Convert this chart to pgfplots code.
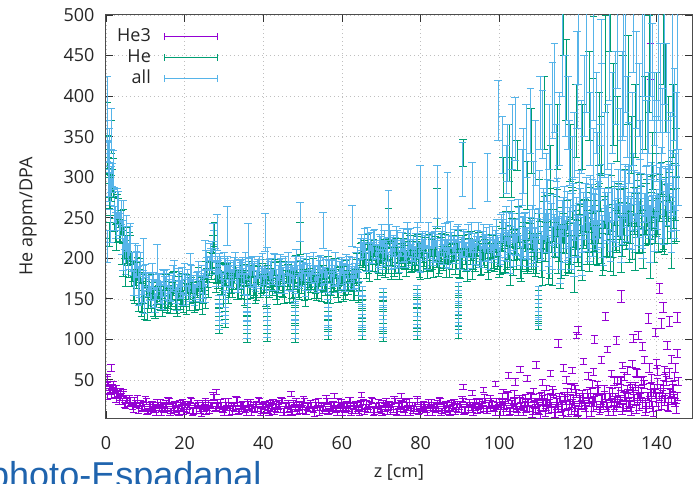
\documentclass[border=0pt]{standalone}
\usepackage{fontspec}
\setmainfont{Open Sans}
\newfontfamily\arialfont{Liberation Sans}
\usepackage{pgfplots}
\usepackage{pgfplotstable}
\pgfplotsset{compat=1.18}
\definecolor{cHeT}{HTML}{9400D3}
\definecolor{cHe}{HTML}{009E73}
\definecolor{cAll}{HTML}{56B4E9}
\definecolor{cTxt}{HTML}{1F64AE}

\pgfplotstableread{
x a h p ea ep
0.5 328 320 46 15 3
1 286 273 36 20 4
1.5 303 296 42 14 3
2 266 255 33 22 5
2.5 241 226 26 16 3
3 265 256 33 18 4
3.5 247 233 28 12 3
4 226 214 24 21 4
4.5 255 245 33 16 3
5 204 190 20 24 5
5.5 214 207 25 15 3
6 222 214 27 18 4
6.5 193 180 20 14 3
7 170 163 14 15 4
7.5 198 187 22 20 3
8 202 187 26 14 5
8.5 174 165 18 22 3
9 159 145 15 16 4
9.5 174 162 21 18 3
10 185 175 26 8 4
10.5 152 138 11 14 3
11 170 163 18 11 5
11.5 158 150 14 16 3
12 173 160 19 10 4
12.5 145 138 13 12 3
13 163 152 22 9 4
13.5 172 157 16 10 3
14 158 149 11 13 5
14.5 177 163 20 9 3
15 163 151 17 15 4
15.5 154 144 14 11 3
16 169 155 24 12 4
16.5 156 149 12 8 3
17 177 169 18 14 5
17.5 161 148 21 11 3
18 152 145 15 16 4
18.5 174 163 10 10 3
19 168 153 19 12 4
19.5 161 152 23 9 3
20 184 170 16 10 5
20.5 156 144 13 13 3
21 168 158 20 9 4
21.5 178 164 26 15 3
22 163 156 11 11 4
22.5 154 146 18 12 3
23 175 162 14 8 5
23.5 182 175 19 14 3
24 168 157 13 11 4
24.5 162 147 22 16 3
25 175 166 16 10 4
25.5 198 184 11 12 3
26 173 161 20 9 5
26.5 208 198 19 10 3
27 208 194 19 13 4
27.5 226 219 29 9 3
28 181 173 17 15 4
28.5 187 174 20 11 3
29 190 183 21 12 5
29.5 174 163 15 8 3
30 194 179 10 14 4
30.5 181 172 19 11 3
31 174 160 23 16 4
31.5 187 175 16 10 3
32 174 164 13 12 5
32.5 192 178 20 9 3
33 179 172 26 10 4
33.5 171 163 11 13 3
34 189 176 18 9 4
34.5 184 177 14 15 3
35 177 166 19 11 5
35.5 196 181 13 12 3
36 173 164 22 8 4
36.5 182 168 16 14 3
37 190 178 11 11 4
37.5 178 168 20 16 3
38 169 155 17 10 5
38.5 187 180 14 12 3
39 193 185 24 9 4
39.5 180 167 12 10 3
40 175 168 18 13 4
40.5 185 174 21 9 3
41 199 184 15 15 5
41.5 172 163 10 11 3
42 188 174 19 12 4
42.5 179 167 23 8 3
43 191 181 16 14 4
43.5 168 154 13 11 3
44 183 176 20 16 5
44.5 190 182 26 10 3
45 177 164 11 12 4
45.5 194 187 18 9 3
46 181 170 14 10 4
46.5 174 159 19 13 3
47 187 178 13 9 5
47.5 174 160 22 15 3
48 192 180 16 11 4
48.5 179 169 11 12 3
49 171 157 20 8 4
49.5 189 182 17 14 3
50 184 176 14 11 5
50.5 177 164 24 16 3
51 196 189 12 10 4
51.5 173 162 18 12 3
52 182 167 21 9 4
52.5 190 181 15 10 3
53 178 164 10 13 5
53.5 169 157 19 9 3
54 187 177 23 15 4
54.5 193 179 16 11 3
55 180 173 13 12 4
55.5 175 167 20 8 3
56 185 172 26 14 5
56.5 199 192 11 11 3
57 172 161 18 16 4
57.5 188 173 14 10 3
58 179 170 19 12 4
58.5 191 177 13 9 3
59 168 156 22 10 5
59.5 183 173 16 13 3
60 190 176 11 9 4
60.5 177 170 20 15 3
61 194 186 17 11 4
61.5 181 168 14 12 3
62 174 167 24 8 5
62.5 187 176 12 14 3
63 174 159 18 11 4
63.5 192 183 21 16 3
64 179 165 15 10 4
64.5 185 173 10 13 3
65 220 210 19 10 5
65.5 214 200 23 11 3
66 206 199 16 14 4
66.5 228 220 13 10 3
67 202 189 20 17 4
67.5 212 205 26 12 3
68 221 210 11 13 5
68.5 208 193 18 9 3
69 198 189 14 15 4
69.5 218 204 19 12 3
70 224 212 13 18 4
70.5 210 200 22 11 3
71 204 190 16 13 5
71.5 215 208 11 10 3
72 231 223 20 11 4
72.5 201 188 17 14 3
73 219 212 14 10 4
73.5 209 198 24 17 3
74 222 207 12 12 5
74.5 196 187 18 13 3
75 213 199 21 9 4
75.5 222 210 15 15 3
76 208 198 10 12 4
76.5 227 213 19 18 3
77 212 205 23 11 5
77.5 204 196 16 13 3
78 218 205 13 10 4
78.5 204 197 20 11 3
79 224 213 26 14 4
79.5 210 195 11 10 3
80 200 191 18 17 5
80.5 221 207 14 12 3
81 215 203 19 13 4
81.5 207 197 13 9 3
82 229 215 22 15 4
82.5 203 196 16 12 3
83 213 205 11 18 5
83.5 222 209 20 11 3
84 209 202 17 13 4
84.5 199 188 14 10 3
85 219 204 24 11 4
85.5 226 217 12 14 3
86 212 198 18 10 5
86.5 206 194 21 17 3
87 217 207 15 12 4
87.5 233 219 10 13 3
88 203 196 19 9 4
88.5 221 213 23 15 3
89 211 198 16 12 5
89.5 224 217 13 18 3
90 198 187 20 11 4
90.5 215 200 27 13 3
91 223 214 12 10 4
91.5 209 195 19 11 3
92 228 216 15 14 5
92.5 213 203 20 10 3
93 205 191 14 17 4
93.5 219 212 23 12 3
94 205 197 17 13 4
94.5 225 212 12 9 3
95 211 204 21 15 5
95.5 203 192 18 12 3
96 224 209 15 18 4
96.5 218 209 25 11 3
97 210 196 13 13 4
97.5 232 220 19 10 3
98 206 196 22 11 5
98.5 216 202 16 14 3
99 225 218 11 10 4
99.5 212 204 20 17 3
100 202 189 24 12 4
100.5 235 229 18 19 4
101 244 232 14 13 7
101.5 223 205 23 22 4
102 214 205 31 18 5
102.5 231 215 11 26 4
103 255 242 20 16 5
103.5 209 198 15 19 4
104 236 220 22 14 7
104.5 221 215 14 16 4
105 242 234 26 21 5
105.5 201 186 18 14 4
106 227 221 11 24 5
106.5 239 227 23 18 4
107 218 200 19 19 7
107.5 247 238 15 13 4
108 225 209 28 22 5
108.5 212 199 12 18 4
109 234 223 20 26 5
109.5 213 197 24 16 4
110 243 237 16 19 7
110.5 228 220 8 20 5
111 207 189 25 22 6
111.5 253 247 32 29 5
112 240 226 19 20 6
112.5 223 201 14 33 5
113 272 262 26 24 8
113.5 213 193 37 26 5
114 236 220 10 18 6
114.5 257 245 23 31 5
115 226 206 16 24 6
115.5 204 198 25 35 5
116 249 241 14 22 8
116.5 263 245 30 26 5
117 232 226 19 20 6
117.5 219 205 10 22 5
118 244 222 26 29 6
118.5 278 268 21 20 5
119 211 191 16 33 8
119.5 251 235 34 24 5
120 228 216 12 26 6
120.5 269 249 26 18 5
121 210 204 31 31 6
121.5 248 240 20 24 5
122 265 247 11 35 8
122.5 235 229 28 22 5
123 276 262 35 26 6
123.5 244 222 22 20 5
124 225 215 17 22 6
124.5 257 237 29 29 5
125 227 211 40 20 8
125.5 271 259 13 33 5
126 238 218 26 24 6
126.5 217 211 19 26 5
127 263 255 28 18 6
127.5 250 232 17 31 5
128 233 227 33 24 8
128.5 282 268 22 35 5
129 223 201 13 22 6
129.5 246 236 29 26 5
130 267 247 24 20 6
130.5 246 230 21 22 5
131 224 212 45 29 8
131.5 269 249 16 20 5
132 283 277 30 33 6
132.5 252 244 38 24 5
133 239 221 23 26 6
133.5 264 258 11 18 5
134 298 284 33 31 8
134.5 231 209 42 24 5
135 271 261 26 35 6
135.5 248 228 18 22 5
136 279 263 35 26 6
136.5 220 208 50 20 5
137 258 238 14 22 8
137.5 275 269 30 29 5
138 245 237 21 20 6
138.5 286 268 33 33 5
139 254 248 18 24 6
139.5 235 221 40 26 5
140 267 245 26 18 8
140.5 249 239 18 31 5
141 293 273 39 24 6
141.5 260 244 32 35 5
142 239 227 25 22 6
142.5 285 265 49 26 5
143 272 266 20 20 8
143.5 255 247 34 22 5
144 304 286 42 29 6
144.5 245 239 27 20 5
145 268 254 15 33 6
}\main

\pgfplotstableread{
x a h p ea ep
0.25 332 323 50 12 5
0.75 297 283 40 21 3
1.25 298 286 31 16 4
1.75 309 299 37 24 3
2.25 249 235 39 15 4
2.75 268 261 30 18 3
3.25 242 234 25 14 5
3.75 257 244 30 15 3
4.25 205 198 35 20 4
4.75 225 214 19 14 3
5.25 231 216 25 22 4
5.75 202 193 20 16 3
6.25 225 211 24 18 5
6.75 196 184 17 12 3
7.25 176 166 25 21 4
7.75 193 179 19 16 3
8.25 166 159 13 24 4
8.75 193 185 22 15 3
9.25 164 151 18 18 5
9.75 146 139 15 14 3
10.25 173 162 24 10 4
10.75 166 151 12 13 3
11.25 157 148 18 9 4
11.75 179 165 21 15 3
12.25 151 139 15 11 5
12.75 162 152 10 12 3
13.25 172 158 19 8 4
13.75 158 151 23 14 3
14.25 148 140 16 11 4
14.75 169 156 13 16 3
15.25 177 170 20 10 5
15.75 162 151 26 12 3
16.25 156 141 11 9 4
16.75 169 160 18 10 3
17.25 185 171 14 13 4
17.75 153 141 19 9 3
18.25 173 163 13 15 5
18.75 162 148 22 11 3
19.25 177 170 16 12 4
19.75 150 142 11 8 3
20.25 168 155 20 14 4
20.75 176 169 17 11 3
21.25 163 152 14 16 5
21.75 182 167 24 10 3
22.25 167 158 12 12 4
22.75 159 145 18 9 3
23.25 174 162 21 10 4
23.75 160 150 15 13 3
24.25 182 168 10 9 5
24.75 166 159 19 15 3
25.25 157 149 23 11 4
25.75 189 176 16 12 3
26.25 194 187 13 8 4
26.75 199 188 20 14 3
27.25 232 217 30 11 5
27.75 196 187 15 16 3
28.25 193 179 22 10 4
28.75 194 182 14 12 3
29.25 175 165 19 9 4
29.75 164 150 13 10 3
30.25 187 180 22 13 5
30.75 193 185 16 9 3
31.25 180 167 11 15 4
31.75 175 168 20 11 3
32.25 185 174 17 12 4
32.75 199 184 14 8 3
33.25 172 163 24 14 5
33.75 188 174 12 11 3
34.25 179 167 18 16 4
34.75 191 181 21 10 3
35.25 168 154 15 12 4
35.75 183 176 10 9 3
36.25 190 182 19 10 5
36.75 177 164 23 13 3
37.25 194 187 16 9 4
37.75 181 170 13 15 3
38.25 174 159 20 11 4
38.75 187 178 26 12 3
39.25 174 160 11 8 5
39.75 192 180 18 14 3
40.25 179 169 14 11 4
40.75 171 157 19 16 3
41.25 189 182 13 10 4
41.75 184 176 22 12 3
42.25 177 164 16 9 5
42.75 196 189 11 10 3
43.25 173 162 20 13 4
43.75 182 167 17 9 3
44.25 190 181 14 15 4
44.75 178 164 24 11 3
45.25 169 157 12 12 5
45.75 187 177 18 8 3
46.25 193 179 21 14 4
46.75 180 173 15 11 3
47.25 175 167 10 16 4
47.75 185 172 19 10 3
48.25 199 192 23 12 5
48.75 172 161 16 9 3
49.25 188 173 13 10 4
49.75 179 170 20 13 3
50.25 191 177 26 9 4
50.75 168 156 11 15 3
51.25 183 173 18 11 5
51.75 190 176 14 12 3
52.25 177 170 19 8 4
52.75 194 186 13 14 3
53.25 181 168 22 11 4
53.75 174 167 16 16 3
54.25 187 176 11 10 5
54.75 174 159 20 12 3
55.25 192 183 17 9 4
55.75 179 165 14 10 3
56.25 171 159 24 13 4
56.75 189 179 12 9 3
57.25 184 170 18 15 5
57.75 177 170 21 11 3
58.25 196 188 15 12 4
58.75 173 160 10 8 3
59.25 182 175 19 14 4
59.75 190 179 23 11 3
60.25 178 163 16 16 5
60.75 169 160 13 10 3
61.25 187 173 20 12 4
61.75 193 181 26 9 3
62.25 180 170 11 10 4
62.75 175 161 18 13 3
63.25 185 178 14 9 5
63.75 199 191 19 15 3
64.25 171 158 13 12 4
64.75 212 205 22 13 3
65.25 209 198 16 9 4
65.75 222 207 11 15 3
66.25 196 187 20 12 5
66.75 213 199 17 18 3
67.25 221 209 14 11 4
67.75 207 197 24 13 3
68.25 226 212 12 10 4
68.75 211 204 18 11 3
69.25 203 195 21 14 5
69.75 217 204 15 10 3
70.25 203 196 10 17 4
70.75 223 212 19 12 3
71.25 209 194 23 13 4
71.75 199 190 16 9 3
72.25 220 206 13 15 5
72.75 214 202 20 12 3
73.25 206 196 26 18 4
73.75 228 214 11 11 3
74.25 202 195 18 13 4
74.75 212 204 14 10 3
75.25 221 208 19 11 5
75.75 209 202 13 14 3
76.25 199 188 22 10 4
76.75 219 204 16 17 3
77.25 225 216 11 12 4
77.75 211 197 20 13 3
78.25 205 193 17 9 5
78.75 216 206 14 15 3
79.25 232 218 24 12 4
79.75 202 195 12 18 3
80.25 220 212 18 11 4
80.75 210 197 21 13 3
81.25 223 216 15 10 5
81.75 197 186 10 11 3
82.25 214 199 19 14 4
82.75 222 213 23 10 3
83.25 208 194 16 17 4
83.75 227 215 13 12 3
84.25 212 202 20 13 5
84.75 204 190 26 9 3
85.25 218 211 11 15 4
85.75 205 197 18 12 3
86.25 225 212 14 18 4
86.75 211 204 19 11 3
87.25 201 190 13 13 5
87.75 222 207 22 10 3
88.25 216 207 16 11 4
88.75 208 194 11 14 3
89.25 230 218 20 10 4
89.75 204 194 17 17 3
90.25 214 200 15 12 5
90.75 223 216 25 13 3
91.25 210 202 13 9 4
91.75 200 187 19 15 3
92.25 220 213 22 12 4
92.75 226 215 16 18 3
93.25 212 197 11 11 5
93.75 206 197 20 13 3
94.25 217 203 24 10 4
94.75 233 221 17 11 3
95.25 203 193 14 14 4
95.75 223 209 21 10 3
96.25 213 206 27 17 5
96.75 226 218 12 12 3
97.25 200 187 19 13 4
97.75 217 210 15 9 3
98.25 225 214 20 15 4
98.75 211 196 14 12 3
99.25 230 221 23 18 5
99.75 215 201 17 11 3
100.25 212 199 11 19 5
100.75 234 223 23 14 4
101.25 213 197 19 16 5
101.75 243 237 15 21 4
102.25 221 213 28 14 7
102.75 206 191 12 24 4
103.25 238 232 20 18 5
103.75 229 217 24 19 4
104.25 217 199 16 13 5
104.75 251 242 10 22 4
105.25 210 194 22 18 7
105.75 226 213 27 26 4
106.25 240 229 18 16 5
106.75 219 203 14 19 4
107.25 204 198 23 14 5
107.75 235 227 31 16 4
108.25 244 229 11 21 7
108.75 223 217 20 14 4
109.25 214 202 15 24 5
109.75 231 213 22 18 4
110.25 282 272 14 26 6
110.75 215 195 30 18 5
111.25 255 239 19 31 8
111.75 232 220 10 24 5
112.25 263 243 26 35 6
112.75 204 198 21 22 5
113.25 242 234 16 26 6
113.75 259 241 34 20 5
114.25 229 223 12 22 8
114.75 270 256 23 29 5
115.25 238 216 28 20 6
115.75 219 209 17 33 5
116.25 251 231 8 24 6
116.75 221 205 25 26 5
117.25 265 253 32 18 8
117.75 232 212 19 31 5
118.25 211 205 14 24 6
118.75 257 249 26 35 5
119.25 244 226 37 22 6
119.75 227 221 10 26 5
120.25 288 274 26 20 8
120.75 229 207 19 22 5
121.25 252 242 28 29 6
121.75 273 253 17 20 5
122.25 242 226 33 33 6
122.75 220 208 22 24 5
123.25 265 245 13 26 8
123.75 279 273 29 18 5
124.25 248 240 24 31 6
124.75 235 217 19 24 5
125.25 260 254 37 35 6
125.75 294 280 15 22 5
126.25 227 205 26 26 8
126.75 267 257 31 20 5
127.25 244 224 20 22 6
127.75 275 259 11 29 5
128.25 216 204 28 20 6
128.75 254 234 35 33 5
129.25 271 265 22 24 8
129.75 241 233 17 26 5
130.25 292 274 35 18 6
130.75 260 254 50 31 5
131.25 241 227 14 24 6
131.75 273 251 30 35 5
132.25 243 233 21 22 8
132.75 287 267 33 26 5
133.25 254 238 18 20 6
133.75 233 221 40 22 5
134.25 279 259 26 29 6
134.75 266 260 14 20 5
135.25 249 241 35 33 8
135.75 298 280 28 24 5
136.25 239 233 21 26 6
136.75 262 248 45 18 5
137.25 283 261 16 31 6
137.75 252 242 30 24 5
138.25 230 210 38 35 8
138.75 275 259 23 22 5
139.25 289 277 11 26 6
139.75 258 238 33 20 5
140.25 258 252 46 22 6
140.75 283 275 30 29 5
141.25 317 299 22 20 8
141.75 250 244 39 33 5
142.25 290 276 54 24 6
142.75 267 245 18 26 5
143.25 298 288 34 18 6
143.75 239 219 25 31 5
144.25 277 261 37 24 8
144.75 294 282 22 35 5
}\mainB

\pgfplotstableread{
x y e
0.2 30 4
0.3 52 5
0.7 38 4
1.3 65 4
1.8 45 4
2.5 40 4
3.5 36 4
28 35 3
47 33 3
58 30 3
65 32 3
75 30 3
90.8 42 3
93 34 3
95.7 24 3
96 38 3
97.7 28 3
99 45 3
100.7 30 4
101 36 3
102.3 56 4
103.7 33 4
104 48 4
105.3 63 4
106.7 28 4
107 52 4
108.7 36 4
109.4 69 4
110.2 30 4
111 47 4
111.7 22 4
112 40 3
113 58 4
113.7 35 4
114.7 18 4
115 95 5
116.3 65 4
116.7 28 4
117 50 4
118.2 40 5
118.5 62 4
119 42 4
119.2 15 4
119.6 105 4
120 111 5
121.2 33 4
121.4 73 4
122.5 55 4
122.7 25 4
123.7 45 5
124 60 4
124.2 100 5
125 45 4
125.7 20 4
126 75 4
126.7 38 5
127 128 5
127.5 88 4
128.2 30 4
128.5 58 4
129.2 48 5
129.8 99 5
130 50 4
130.7 26 5
131 153 7
131.3 68 4
131.7 55 5
132.5 62 5
132.7 20 5
133.2 42 5
133.8 70 4
134 101 5
134.7 60 5
135 58 5
135.3 105 5
135.7 30 5
136.2 48 5
136.4 91 5
136.9 75 4
137.2 22 5
137.9 126 6
138 65 5
138.4 443 22
138.7 52 5
139.2 35 5
139.7 109 5
140 70 5
140.2 62 6
140.7 163 6
141.2 120 6
141.7 140 6
141.8 45 5
142 62 5
142.2 28 5
142.7 93 5
143.2 58 6
143.3 122 6
143.8 75 5
144.2 40 5
144.5 55 5
144.8 65 6
145.2 127 6
145.2 83 5
145.3 30 5
145.4 48 5
}\hethreeextra

\pgfplotstableread{
x y e
0.2 372 20
0.3 330 20
0.4 210 15
0.5 300 25
0.7 280 20
0.9 230 15
1.2 350 20
28.8 145 5
28.8 133 5
28.8 123 5
28.8 113 5
30.3 150 5
30.3 140 5
30.3 130 5
30.3 120 5
35.9 145 5
35.9 135 5
35.9 123 5
35.9 112 5
35.9 102 5
41 133 5
41 123 5
41 113 5
41 103 5
48.1 147 5
48.1 135 5
48.1 125 5
48.1 113 5
48.1 102 5
56.5 140 5
56.5 130 5
56.5 118 5
56.5 105 5
65.1 155 5
65.1 143 5
65.1 131 5
65.1 117 5
65.1 105 5
70.5 153 5
70.5 142 5
70.5 130 5
70.5 115 5
70.5 103 5
79.1 157 5
79.1 145 5
79.1 133 5
79.1 119 5
79.1 105 5
89.6 160 5
89.6 147 5
89.6 135 5
89.6 121 5
89.6 107 5
110 155 5
110 145 5
110 135 5
110 125 5
110 117 5
27.6 230 15
49.4 225 20
71.8 240 22
84.2 262 25
90.8 330 17
101 300 25
102.5 330 35
103 300 25
104.5 327 18
107 290 30
108 345 40
111.5 380 45
113 310 30
114.8 350 40
116.3 495 45
117 420 50
118 330 35
119.5 370 45
121 350 40
122.8 400 55
124 460 38
125.3 360 45
126 340 35
127 440 60
128.2 495 40
129 390 50
130 360 40
131.5 495 45
132.8 420 55
133.5 340 35
134.5 370 45
136.4 470 70
137 380 45
138 440 60
139 320 35
140 380 50
141.7 480 65
142.2 410 55
143 360 40
144.2 370 45
145 330 30
}\heextra

\pgfplotstableread{
x y e
0.2 385 40
0.3 345 25
0.4 215 20
0.6 300 30
0.8 335 25
1.0 240 20
1.2 360 25
28.8 150 5
28.8 138 5
28.8 128 5
28.8 118 5
30.3 155 5
30.3 145 5
30.3 135 5
30.3 125 5
35.9 150 5
35.9 140 5
35.9 128 5
35.9 117 5
35.9 107 5
41 138 5
41 128 5
41 118 5
41 108 5
48.1 152 5
48.1 140 5
48.1 130 5
48.1 118 5
48.1 107 5
56.5 145 5
56.5 135 5
56.5 123 5
56.5 110 5
65.1 160 5
65.1 148 5
65.1 136 5
65.1 122 5
65.1 110 5
70.5 158 5
70.5 147 5
70.5 135 5
70.5 120 5
70.5 108 5
79.1 162 5
79.1 150 5
79.1 138 5
79.1 124 5
79.1 110 5
89.6 165 5
89.6 152 5
89.6 140 5
89.6 126 5
89.6 112 5
110 160 5
110 150 5
110 140 5
110 130 5
110 122 5
9.5 205 20
13 195 22
21.4 190 16
25.2 200 22
28.2 232 22
30.8 240 24
36.1 222 21
40.5 232 23
49.4 245 24
55.2 235 22
62.6 240 25
71.8 255 29
79.9 280 35
84.2 282 33
86.8 275 31
90.6 310 33
93 290 28
97 300 30
99.7 383 37
100.8 340 35
101.8 310 30
102 330 35
103.2 350 40
104 360 39
105.7 300 35
106 320 40
106.8 345 45
107.9 370 40
108.5 290 30
109.2 330 40
110.3 380 45
111 365 42
112 300 30
112.7 350 40
113.5 395 47
114 410 55
114.5 330 35
115.2 360 45
116 460 60
116.8 400 50
117.5 380 45
117.9 330 40
118.5 315 35
119 340 40
119.7 420 60
120 470 55
120.8 350 45
121.5 400 50
122.2 450 70
123 360 45
123.8 320 40
124 440 70
124.7 380 50
125 320 35
125.8 430 65
126 390 50
126.8 340 40
127.5 350 40
128 455 60
128.8 380 50
129.5 410 45
129.9 470 60
130.7 340 45
131.2 400 55
131.5 430 80
132.1 450 70
132.5 375 50
133 330 38
133.7 360 45
134 480 50
134.8 420 60
135.5 395 45
135.9 330 40
136.4 420 90
136.9 470 70
137.5 355 40
137.9 380 50
138.4 460 60
138.9 430 60
139.5 385 45
139.8 350 45
140 335 40
140.5 440 70
140.9 410 55
141.5 370 40
141.9 460 70
142.5 410 55
142.9 330 40
143.5 345 35
143.9 440 65
144.5 390 45
144.9 360 45
145.2 420 85
145.4 300 35
}\allextra

\pgfplotsset{
  eb/.style={color=#1, draw=none, mark=none, line width=0.8bp,
    legend image code/.code={\draw[color=#1, line width=0.9bp] (0bp,0bp) -- (53bp,0bp) (0bp,-3.5bp) -- (0bp,3.5bp) (53bp,-3.5bp) -- (53bp,3.5bp);},
    error bars/.cd, y dir=both, y explicit,
    draw error bar/.code 2 args={\draw ##1 -- ##2 ++(-3.8bp,0pt) -- ++(7.6bp,0pt);},
    /pgfplots/.cd},
}

\begin{document}
\begin{tikzpicture}
\begin{axis}[name=ax,
  scale only axis, width=586bp, height=403bp,
  xmin=0, xmax=149, ymin=3, ymax=500,
  xtick={0,20,...,140}, ytick={50,100,...,500},
  no markers,
  minor tick num=0, tick align=inside, major tick length=7bp,
  grid=major,
  major grid style={line width=0.6bp, gray!50, dash pattern=on 0.8bp off 3.2bp},
  axis line style={draw=black!70, line width=1bp},
  tick style={black!80, line width=0.8bp},
  /pgf/number format/assume math mode=true,
  tick label style={font=\fontsize{18bp}{21bp}\selectfont, text=black!85},
  xticklabel style={yshift=-15bp},
  yticklabel style={xshift=-8bp},
  label style={font=\fontsize{18bp}{21bp}\selectfont, text=black!85},
  xlabel={z [cm]},
  xlabel style={at={(axis description cs:0.5,0)}, anchor=center, yshift=-54bp},
  ylabel={He appm/DPA},
  ylabel style={at={(axis description cs:-0.133,0.5)}, anchor=center},
  legend plot pos=right, legend cell align=right,
  legend style={at={(axis description cs:0,1)}, anchor=north west, xshift=6bp, yshift=-9bp,
    draw=none, fill=none, font=\fontsize{18bp}{21bp}\selectfont, text=black!85,
    row sep=0bp, column sep=11bp,
    nodes={inner sep=2bp, text height=13bp, text depth=4bp}},
]
\addplot[eb=cHeT] table[x=x, y=p, y error=ep] {\main};
\addlegendentry{He3}
\addplot[eb=cHe] table[x=x, y=h, y error=ea] {\main};
\addlegendentry{He}
\addplot[eb=cAll] table[x=x, y=a, y error=ea] {\main};
\addlegendentry{all}
\addplot[forget plot, eb=cHeT] table[x=x, y=p, y error=ep] {\mainB};
\addplot[forget plot, eb=cHeT] table[x=x, y=y, y error=e] {\hethreeextra};
\addplot[forget plot, eb=cHe] table[x=x, y=h, y error=ea] {\mainB};
\addplot[forget plot, eb=cHe] table[x=x, y=y, y error=e] {\heextra};
\addplot[forget plot, eb=cAll] table[x=x, y=a, y error=ea] {\mainB};
\addplot[forget plot, eb=cAll] table[x=x, y=y, y error=e] {\allextra};
\end{axis}
\node[anchor=base west, inner sep=0pt, text=cTxt, font=\arialfont\fontsize{36bp}{40bp}\selectfont]
  at ([shift={(-117bp,-69bp)}]ax.south west) {photo-Espadanal};
\pgfresetboundingbox
\path[use as bounding box] ([shift={(-106bp,-66bp)}]ax.south west) rectangle ([shift={(1bp,15bp)}]ax.north east);
\end{tikzpicture}
\end{document}
